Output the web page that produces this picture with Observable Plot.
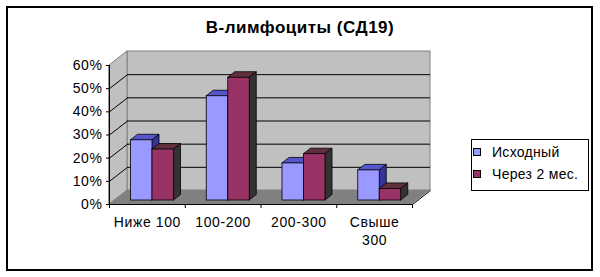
<!DOCTYPE html>
<html>
<head>
<meta charset="utf-8">
<script src="https://cdn.jsdelivr.net/npm/d3@7"></script>
<script src="https://cdn.jsdelivr.net/npm/@observablehq/plot@0.6"></script>
<style>
  html, body { margin: 0; padding: 0; background: #fff; }
  #wrap { position: relative; width: 600px; height: 277px; font-family: "Liberation Sans", Arial, sans-serif; overflow: hidden; }
  #wrap svg { position: absolute; left: 0; top: 0; }
  #wrap svg text { letter-spacing: 0.6px; }
  #border { position: absolute; left: 6px; top: 6px; width: 587px; height: 265px; box-sizing: border-box; border: 2px solid #000; pointer-events: none; }
  #title { position: absolute; left: 0; top: 18px; width: 600px; text-align: center; font-weight: bold; font-size: 17px; line-height: 20px; letter-spacing: 0.5px; }
  #legend { position: absolute; left: 471px; top: 139px; width: 118px; height: 52px; box-sizing: border-box; border: 1px solid #000; background: #fff; font-size: 14px; letter-spacing: 0.3px; }
  .item { position: absolute; left: 1px; height: 18px; line-height: 18px; white-space: nowrap; }
  .sw { display: inline-block; width: 6px; height: 6px; border: 1px solid #000; margin-right: 11px; vertical-align: 1px; }
</style>
</head>
<body>
<div id="wrap">
  <div id="title"></div>
  <div id="legend"></div>
  <div id="border"></div>
</div>
<script>
// ---- data ----
const title = "В-лимфоциты (СД19)";
const categories = ["Ниже 100", "100-200", "200-300", "Свыше 300"];
const tickLabels = ["Ниже 100", "100-200", "200-300", "Свыше\n300"];
const seriesNames = ["Исходный", "Через 2 мес."];
const initialValues = [26, 45, 16, 13];
const after2Months = [22, 53, 20, 5];
const yTicks = [0, 10, 20, 30, 40, 50, 60];

// ---- styles ----
const seriesStyles = [
  {front: "#9999ff", top: "#5656cc", side: "#333399"},
  {front: "#993366", top: "#602f3c", side: "#333333"}
];

// ---- layout (plot frame) ----
const W = 600, H = 277;
const mL = 109, mR = 188, mT = 65, mB = 73;
const pxX = (W - mL - mR) / categories.length;
const yMax = 60;
const pxY = (H - mT - mB) / yMax;
// depth offsets expressed in data units
const DX = 18 / pxX, DY = 14 / pxY;          // wall depth
const BOX = 5 / pxX, BOY = 4 / pxY;          // bar front plane offset
const BDX = 7 / pxX, BDY = 5.5 / pxY;        // bar depth
const GAP = 16.5 / pxX, BW = 21.5 / pxX;     // bar gap and width

const seriesValues = [initialValues, after2Months];
const bars = [];
categories.forEach((c, i) => {
  seriesValues.forEach((vals, s) => {
    const x1 = i + BOX + GAP + s * BW;
    bars.push({id: c + s, s, v: vals[i], x1, x2: x1 + BW, y0: BOY, top: BOY + vals[i]});
  });
});

const faceMarks = [];
[0, 1].forEach(s => {
  const b = bars.filter(d => d.s === s);
  const st = seriesStyles[s];
  const sides = b.flatMap(d => [
    {id: d.id, x: d.x2, y1: d.y0, y2: d.top},
    {id: d.id, x: d.x2 + BDX, y1: d.y0 + BDY, y2: d.top + BDY}
  ]);
  const tops = b.flatMap(d => [
    {id: d.id, y: d.top, x1: d.x1, x2: d.x2},
    {id: d.id, y: d.top + BDY, x1: d.x1 + BDX, x2: d.x2 + BDX}
  ]);
  faceMarks.push(
    Plot.areaY(sides, {x: "x", y1: "y1", y2: "y2", z: "id", fill: st.side, stroke: "#000", strokeWidth: 0.8}),
    Plot.areaX(tops, {y: "y", x1: "x1", x2: "x2", z: "id", fill: st.top, stroke: "#000", strokeWidth: 0.8}),
    Plot.rect(b, {x1: "x1", x2: "x2", y1: "y0", y2: "top", fill: st.front, stroke: "#000", strokeWidth: 0.8})
  );
});

const gridVals = yTicks.filter(d => d > 0 && d < yMax);

const chart = Plot.plot({
  width: W, height: H,
  marginLeft: mL, marginRight: mR, marginTop: mT, marginBottom: mB,
  style: {fontFamily: "'Liberation Sans', Arial, sans-serif", fontSize: "14px", color: "#000", background: "transparent", overflow: "visible"},
  x: {domain: [0, categories.length]},
  y: {domain: [0, yMax]},
  marks: [
    // back wall
    Plot.rect([{}], {x1: DX, x2: categories.length + DX, y1: DY, y2: yMax + DY, fill: "#c0c0c0", stroke: "#808080", strokeWidth: 1}),
    // left wall
    Plot.areaY([{x: 0, y1: 0, y2: yMax}, {x: DX, y1: DY, y2: yMax + DY}], {x: "x", y1: "y1", y2: "y2", fill: "#c0c0c0", stroke: "#808080", strokeWidth: 1}),
    // floor
    Plot.areaX([{y: 0, x1: 0, x2: categories.length}, {y: DY, x1: DX, x2: categories.length + DX}], {y: "y", x1: "x1", x2: "x2", fill: "#808080"}),
    // gridlines on back wall
    Plot.ruleY(gridVals, {y: d => d + DY, x1: DX, x2: categories.length + DX, stroke: "#000", strokeWidth: 1}),
    // gridlines on left wall
    Plot.link(gridVals, {x1: 0, y1: d => d, x2: DX, y2: d => d + DY, stroke: "#000", strokeWidth: 1}),
    // floor right edge
    Plot.link([categories.length], {x1: d => d, y1: 0, x2: d => d + DX, y2: DY, stroke: "#000", strokeWidth: 1}),
    // axes lines
    Plot.ruleX([0], {y1: 0, y2: yMax, stroke: "#000", strokeWidth: 1}),
    Plot.ruleY([0], {x1: 0, x2: categories.length, stroke: "#000", strokeWidth: 1}),
    Plot.axisY({ticks: yTicks, tickSize: 3, tickPadding: 4, tickFormat: d => d + "%", fontSize: 14, stroke: "#000", strokeOpacity: 1}),
    Plot.axisX({ticks: d3.range(categories.length + 1), tickSize: 4, tickFormat: () => "", stroke: "#000", strokeOpacity: 1}),
    Plot.axisX({ticks: categories.map((c, i) => i + 0.5), tickSize: 0, tickPadding: 10, lineHeight: 1.28, fontSize: 14,
      tickFormat: (d, i) => tickLabels[i]}),
    ...faceMarks
  ]
});
document.getElementById("wrap").prepend(chart);

document.getElementById("title").textContent = title;
const lg = document.getElementById("legend");
seriesNames.forEach((n, s) => {
  const it = document.createElement("div");
  it.className = "item";
  it.style.top = (s === 0 ? 3 : 25) + "px";
  const sw = document.createElement("span");
  sw.className = "sw";
  sw.style.background = seriesStyles[s].front;
  it.appendChild(sw);
  it.appendChild(document.createTextNode(n));
  lg.appendChild(it);
});
</script>
</body>
</html>
